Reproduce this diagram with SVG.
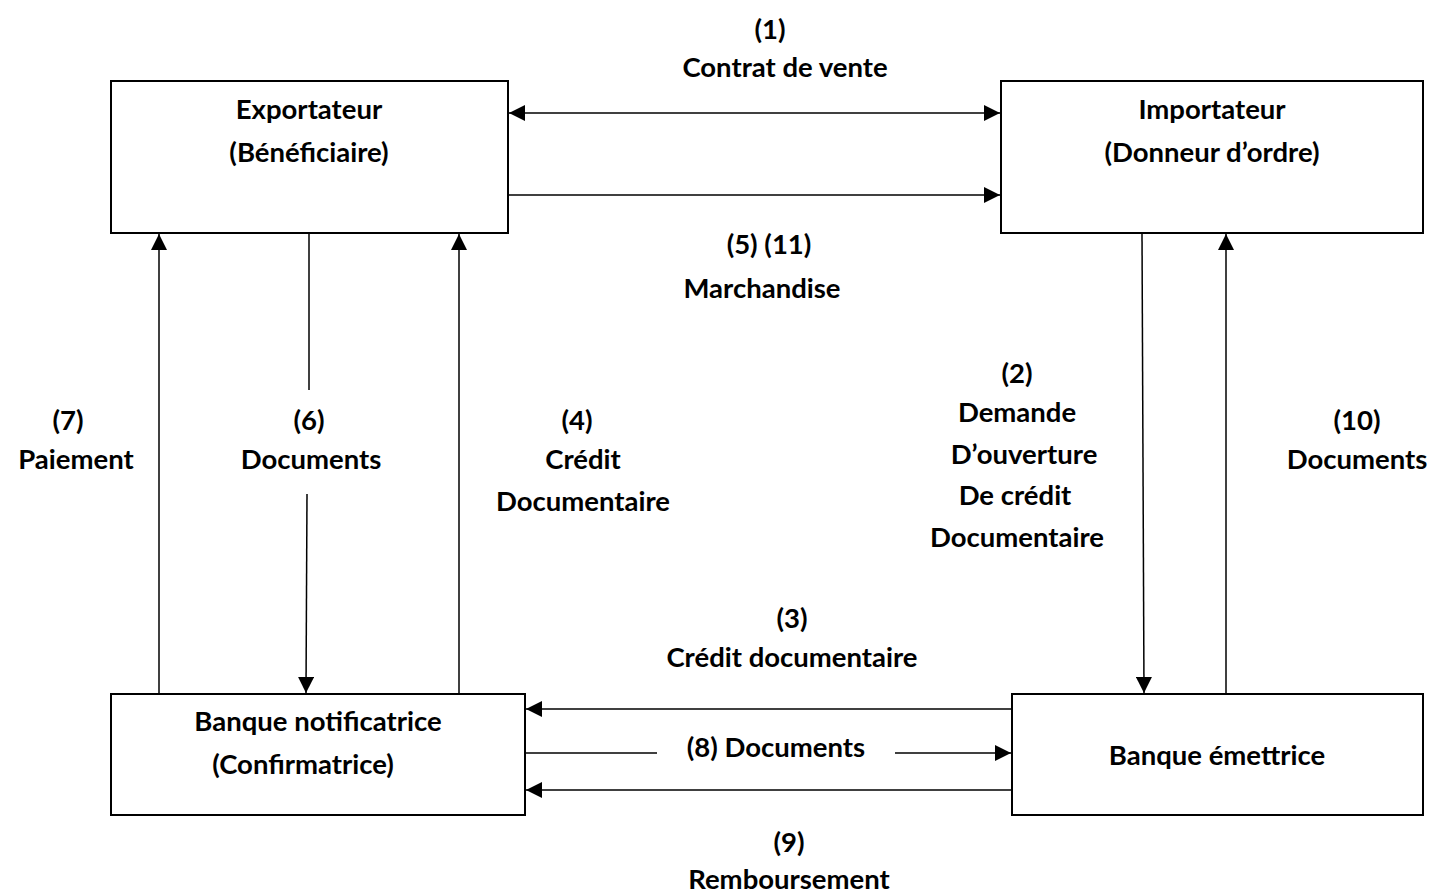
<svg xmlns="http://www.w3.org/2000/svg" width="1429" height="895" viewBox="0 0 1429 895">
<defs>
<marker id="ah" viewBox="0 0 10 10" refX="10" refY="5" markerWidth="16" markerHeight="16" markerUnits="userSpaceOnUse" orient="auto-start-reverse">
<path d="M0,0 L10,5 L0,10 Z" fill="#000"/>
</marker>
<style>
.box{fill:#fff;stroke:#000;stroke-width:2}
.ln{fill:none;stroke:#000;stroke-width:1.5}
text{font-family:Lato,"Liberation Sans",sans-serif;font-weight:bold;font-size:27.5px;fill:#000;text-anchor:middle}
</style>
</defs>
<rect width="1429" height="895" fill="#fff"/>
<g id="exportateur">
<rect class="box" x="111" y="81" width="397" height="152"/>
<text x="309" y="119">Exportateur</text>
<text x="309" y="162">(Bénéficiaire)</text>
</g>
<g id="importateur">
<rect class="box" x="1001" y="81" width="422" height="152"/>
<text x="1212" y="119">Importateur</text>
<text x="1212" y="162">(Donneur d’ordre)</text>
</g>
<g id="banque-notificatrice">
<rect class="box" x="111" y="694" width="414" height="121"/>
<text x="318" y="731">Banque notificatrice</text>
<text x="303" y="774">(Confirmatrice)</text>
</g>
<g id="banque-emettrice">
<rect class="box" x="1012" y="694" width="411" height="121"/>
<text x="1217" y="765">Banque émettrice</text>
</g>
<g id="connectors">
<line class="ln" x1="509" y1="113" x2="1000" y2="113" marker-start="url(#ah)" marker-end="url(#ah)"/>
<line class="ln" x1="509" y1="195" x2="1000" y2="195" marker-end="url(#ah)"/>
<line class="ln" x1="159" y1="693" x2="159" y2="234" marker-end="url(#ah)"/>
<line class="ln" x1="309" y1="234" x2="309" y2="390"/>
<line class="ln" x1="307" y1="494" x2="306" y2="693" marker-end="url(#ah)"/>
<line class="ln" x1="459" y1="693" x2="459" y2="234" marker-end="url(#ah)"/>
<line class="ln" x1="1142" y1="234" x2="1144" y2="693" marker-end="url(#ah)"/>
<line class="ln" x1="1226" y1="693" x2="1226" y2="234" marker-end="url(#ah)"/>
<line class="ln" x1="1011" y1="709" x2="526" y2="709" marker-end="url(#ah)"/>
<line class="ln" x1="526" y1="753" x2="657" y2="753"/>
<line class="ln" x1="895" y1="753" x2="1011" y2="753" marker-end="url(#ah)"/>
<line class="ln" x1="1011" y1="790" x2="526" y2="790" marker-end="url(#ah)"/>
</g>
<g id="labels">
<text x="770" y="39">(1)</text>
<text x="785" y="77">Contrat de vente</text>
<text x="769" y="254">(5) (11)</text>
<text x="762" y="298">Marchandise</text>
<text x="1017" y="383">(2)</text>
<text x="1017" y="422">Demande</text>
<text x="1024" y="464">D’ouverture</text>
<text x="1015" y="505">De crédit</text>
<text x="1017" y="547">Documentaire</text>
<text x="68" y="430">(7)</text>
<text x="76" y="469">Paiement</text>
<text x="309" y="430">(6)</text>
<text x="311" y="469">Documents</text>
<text x="577" y="430">(4)</text>
<text x="583" y="469">Crédit</text>
<text x="583" y="511">Documentaire</text>
<text x="1357" y="430">(10)</text>
<text x="1357" y="469">Documents</text>
<text x="792" y="628">(3)</text>
<text x="792" y="667">Crédit documentaire</text>
<text x="776" y="757">(8) Documents</text>
<text x="789" y="852">(9)</text>
<text x="789" y="889">Remboursement</text>
</g>
</svg>
